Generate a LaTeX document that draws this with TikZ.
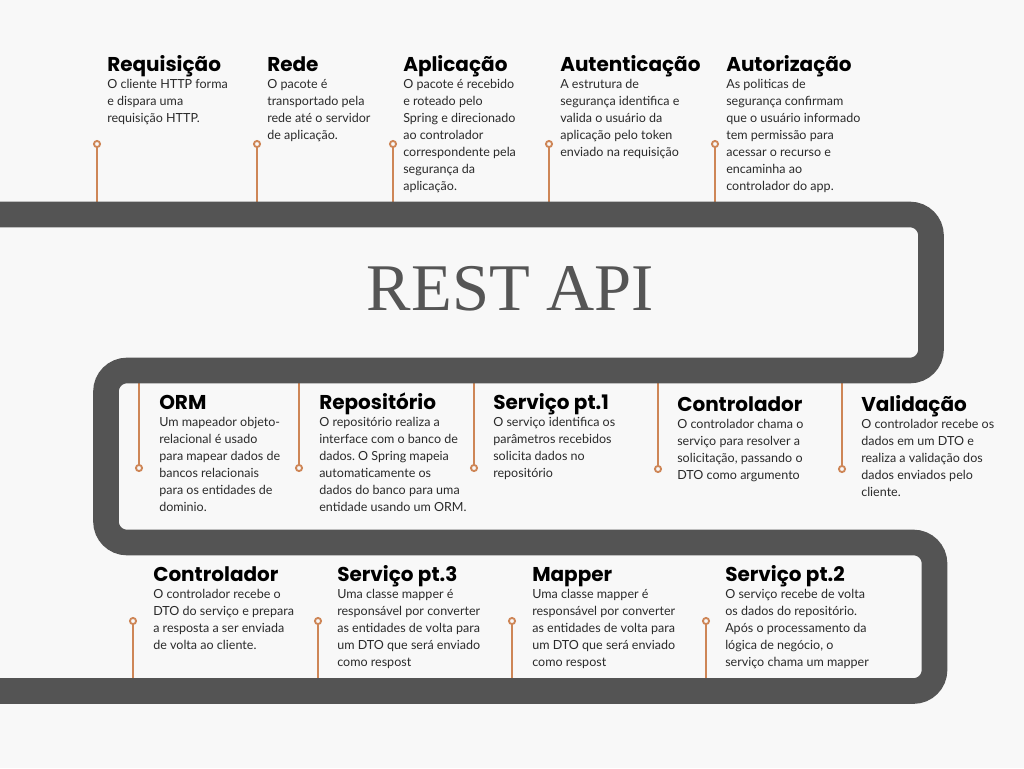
\documentclass[tikz,border=0pt]{standalone}
\usepackage{fontspec}
\setmainfont{Liberation Serif}
\newfontfamily\headfont{Poppins}
\newfontfamily\bodyfont{Lato}
\definecolor{bgc}{HTML}{F8F8F8}
\definecolor{roadc}{HTML}{545454}
\definecolor{tickc}{HTML}{CE8657}
\definecolor{bodyc}{HTML}{2A2A2A}
\definecolor{titlec}{HTML}{555555}
\frenchspacing
\newcommand{\mstage}[5]{%
  \node[headst] (#1h) at (#2,#3) {#4};
  \node[bodyst] (#1b) at (#2,#3+17) {\begin{tabular}[t]{@{}l@{}}#5\end{tabular}};
}
\newcommand{\mtick}[4]{%
  \coordinate (#1e) at (#2,#3);
  \node[dotst] (#1d) at (#2,#4) {};
  \draw[tickline] (#1e) -- (#1d);
}
\begin{document}
\begin{tikzpicture}[x=0.75pt,y=-0.75pt,
  headst/.style={anchor=base west, inner sep=0, font=\headfont\bfseries\fontsize{15}{16}\selectfont, text=black},
  bodyst/.style={anchor=base west, inner sep=0, text=bodyc, font=\bodyfont\frenchspacing\fontsize{9.4}{12.75}\selectfont},
  dotst/.style={circle, draw=tickc, fill=bgc, line width=1.4pt, minimum size=4.6pt, inner sep=0},
  tickline/.style={draw=tickc, line width=1.5pt},
  road/.style={draw=roadc, line width=19.2pt, rounded corners=15.75pt}
]
\useasboundingbox (0,0) rectangle (1024,768);
\clip (0,0) rectangle (1024,768);
\fill[bgc] (0,0) rectangle (1024,768);

% ticks row 1
\mtick{a}{97}{203}{144}
\mtick{b}{257}{203}{144}
\mtick{c}{393}{203}{144}
\mtick{d}{549}{203}{144}
\mtick{e}{715}{203}{144}
% ticks row 2
\mtick{f}{139}{383}{468}
\mtick{g}{299}{383}{468}
\mtick{h}{474}{383}{468}
\mtick{i}{658}{383}{469}
\mtick{j}{842}{383}{469}
% ticks row 3
\mtick{k}{133}{680}{621}
\mtick{l}{318}{680}{621}
\mtick{m}{512}{680}{621}
\mtick{n}{706}{680}{621}

% road
\draw[road] (-30,214.5) -- (931,214.5) -- (931,370.5) -- (106,370.5) -- (106,542.5) -- (934.5,542.5) -- (934.5,691) -- (-30,691);

% title
\node[anchor=base, inner sep=0, text=titlec, font=\fontsize{50}{52}\selectfont] (title) at (510.5,310) {REST API};

% row 1
\mstage{s1}{107}{71}{Requisição}{O cliente HTTP forma\\e dispara uma\\requisição HTTP.}
\mstage{s2}{267}{71}{Rede}{O pacote é\\transportado pela\\rede até o servidor\\de aplicação.}
\mstage{s3}{403}{71}{Aplicação}{O pacote é recebido\\e roteado pelo\\Spring e direcionado\\ao controlador\\correspondente pela\\segurança da\\aplicação.}
\mstage{s4}{560}{71}{Autenticação}{A estrutura de\\segurança identifica e\\valida o usuário da\\aplicação pelo token\\enviado na requisição}
\mstage{s5}{726}{71}{Autorização}{As politicas de\\segurança confirmam\\que o usuário informado\\tem permissão para\\acessar o recurso e\\encaminha ao\\controlador do app.}

% row 2
\mstage{s6}{159}{409}{ORM}{Um mapeador objeto-\\relacional é usado\\para mapear dados de\\bancos relacionais\\para os entidades de\\dominio.}
\mstage{s7}{319}{409}{Repositório}{O repositório realiza a\\interface com o banco de\\dados. O Spring mapeia\\automaticamente os\\dados do banco para uma\\entidade usando um ORM.}
\mstage{s8}{493}{409}{Serviço pt.1}{O serviço identifica os\\parâmetros recebidos\\solicita dados no\\repositório}
\mstage{s9}{677}{411}{Controlador}{O controlador chama o\\serviço para resolver a\\solicitação, passando o\\DTO como argumento}
\mstage{s10}{861}{411}{Validação}{O controlador recebe os\\dados em um DTO e\\realiza a validação dos\\dados enviados pelo\\cliente.}

% row 3
\mstage{s11}{153}{581}{Controlador}{O controlador recebe o\\DTO do serviço e prepara\\a resposta a ser enviada\\de volta ao cliente.}
\mstage{s12}{337}{581}{Serviço pt.3}{Uma classe mapper é\\responsável por converter\\as entidades de volta para\\um DTO que será enviado\\como respost}
\mstage{s13}{532}{581}{Mapper}{Uma classe mapper é\\responsável por converter\\as entidades de volta para\\um DTO que será enviado\\como respost}
\mstage{s14}{725}{581}{Serviço pt.2}{O serviço recebe de volta\\os dados do repositório.\\Após o processamento da\\lógica de negócio, o\\serviço chama um mapper}
\end{tikzpicture}
\end{document}
